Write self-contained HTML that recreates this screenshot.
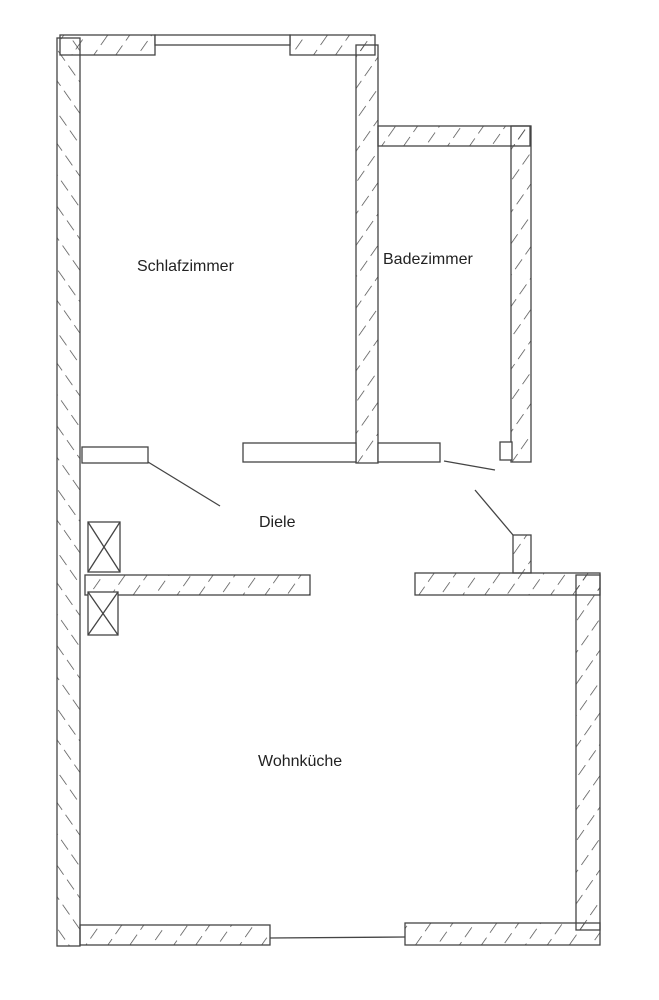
<!DOCTYPE html>
<html><head><style>
html,body{margin:0;padding:0;background:#fff;}
svg{display:block;}
text{font-family:"Liberation Sans",sans-serif;font-size:16px;fill:#222;}
</style></head><body>
<svg width="659" height="1000" viewBox="0 0 659 1000" xmlns="http://www.w3.org/2000/svg">
<defs>
<pattern id="h" width="18" height="18" patternUnits="userSpaceOnUse" patternTransform="rotate(35)">
<line x1="0" y1="3" x2="0" y2="15" stroke="#444" stroke-width="1.4"/>
</pattern>
<pattern id="h2" width="18" height="18" patternUnits="userSpaceOnUse" patternTransform="rotate(-35)">
<line x1="0" y1="3" x2="0" y2="15" stroke="#444" stroke-width="1.4"/>
</pattern>
</defs>
<g stroke="#444" stroke-width="1.3" fill="url(#h)">
<rect x="57" y="38" width="23" height="908" fill="url(#h2)"/>
<rect x="60" y="35" width="95" height="20"/>
<rect x="290" y="35" width="85" height="20"/>
<rect x="356" y="45" width="22" height="418"/>
<rect x="378" y="126" width="152" height="20"/>
<rect x="511" y="126" width="20" height="336"/>
<rect x="513" y="535" width="18" height="38"/>
<rect x="85" y="575" width="225" height="20"/>
<rect x="415" y="573" width="185" height="22"/>
<rect x="576" y="575" width="24" height="355"/>
<rect x="80" y="925" width="190" height="20"/>
<rect x="405" y="923" width="195" height="22"/>
</g>
<g stroke="#444" stroke-width="1.3" fill="#fff">
<rect x="155" y="35" width="135" height="10"/>
<line x1="270" y1="938" x2="405" y2="937"/>
<rect x="82" y="447" width="66" height="16"/>
<rect x="243" y="443" width="113" height="19"/>
<rect x="378" y="443" width="62" height="19"/>
<rect x="500" y="442" width="12" height="18"/>
<rect x="88" y="522" width="32" height="50"/>
<rect x="88" y="592" width="30" height="43"/>
</g>
<g stroke="#444" stroke-width="1.3" fill="none">
<line x1="88" y1="522" x2="120" y2="572"/><line x1="120" y1="522" x2="88" y2="572"/>
<line x1="88" y1="592" x2="118" y2="635"/><line x1="118" y1="592" x2="88" y2="635"/>
<line x1="148" y1="462" x2="220" y2="506"/>
<line x1="444" y1="461" x2="495" y2="470"/>
<line x1="475" y1="490" x2="513" y2="535"/>
</g>
<text x="137" y="271">Schlafzimmer</text>
<text x="383" y="264">Badezimmer</text>
<text x="259" y="527">Diele</text>
<text x="258" y="766">Wohnküche</text>
</svg>
</body></html>
